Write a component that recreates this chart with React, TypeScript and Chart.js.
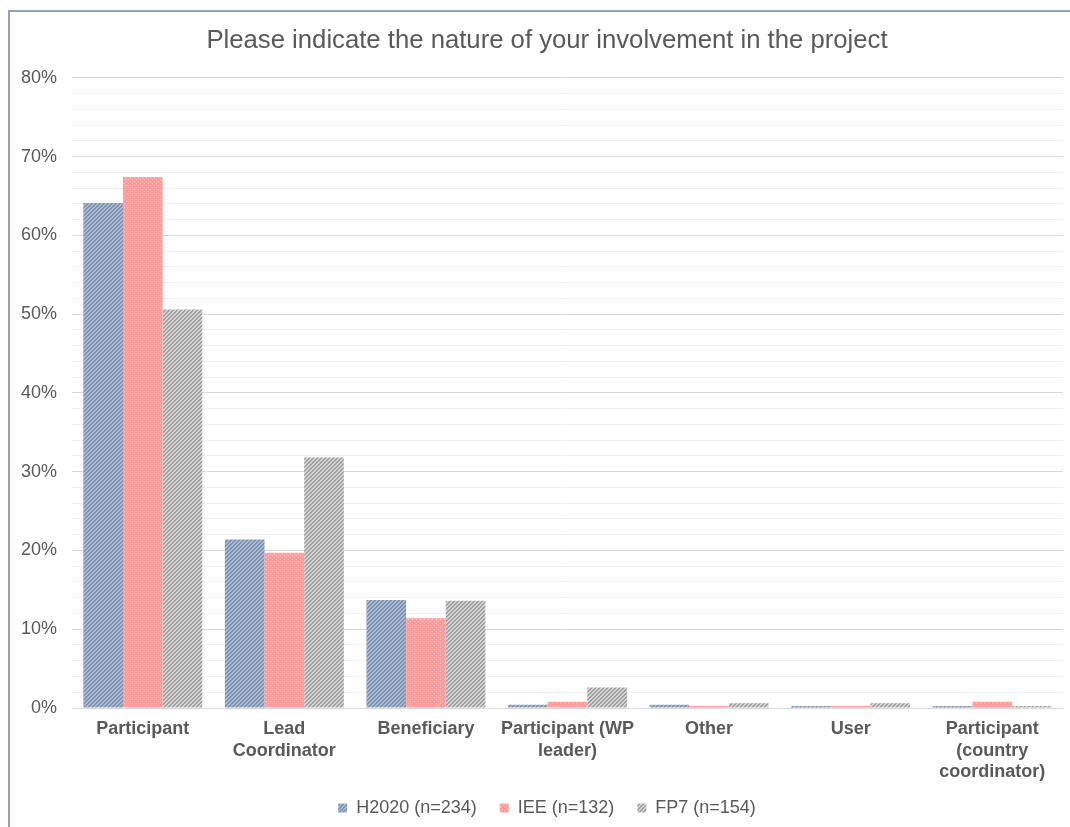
import React, { useEffect, useRef } from "react";
import { Chart, registerables } from "chart.js";

Chart.register(...registerables);

const title = "Please indicate the nature of your involvement in the project";
const categories: (string | string[])[] = [
  "Participant",
  ["Lead", "Coordinator"],
  "Beneficiary",
  ["Participant (WP", "leader)"],
  "Other",
  "User",
  ["Participant", "(country", "coordinator)"],
];
const seriesNames = ["H2020 (n=234)", "IEE (n=132)", "FP7 (n=154)"];
const h2020 = [64.1, 21.4, 13.7, 0.4, 0.4, 0, 0];
const iee = [67.4, 19.7, 11.4, 0.8, 0, 0, 0.8];
const fp7 = [50.6, 31.8, 13.6, 2.6, 0.6, 0.6, 0];

const FONT = "'Liberation Sans', Arial, sans-serif";
const TEXT = "#595959";

function stripePattern(dark: string, light: string): CanvasPattern | string {
  const c = document.createElement("canvas");
  c.width = 4;
  c.height = 4;
  const g = c.getContext("2d");
  if (!g) return dark;
  g.fillStyle = light;
  g.fillRect(0, 0, 4, 4);
  g.fillStyle = dark;
  for (let y = 0; y < 4; y++) {
    for (let k = 0; k < 2; k++) {
      const x = (3 - y + k + 4) % 4;
      g.fillRect(x, y, 1, 1);
    }
  }
  return g.createPattern(c, "repeat") || dark;
}

function dotPattern(base: string, light: string): CanvasPattern | string {
  const c = document.createElement("canvas");
  c.width = 4;
  c.height = 4;
  const g = c.getContext("2d");
  if (!g) return base;
  g.fillStyle = base;
  g.fillRect(0, 0, 4, 4);
  g.fillStyle = light;
  g.fillRect(0, 0, 1, 1);
  g.fillRect(2, 2, 1, 1);
  return g.createPattern(c, "repeat") || base;
}

export default function App() {
  const ref = useRef<HTMLCanvasElement | null>(null);

  useEffect(() => {
    if (!ref.current) return;
    const blue = stripePattern("#7f93b3", "#aab8cf");
    const pink = dotPattern("#ff9d9d", "#ffc8c8");
    const gray = stripePattern("#a2a2a2", "#d2d2d2");
    const chart = new Chart(ref.current, {
      type: "bar",
      data: {
        labels: categories,
        datasets: [
          { label: seriesNames[0], data: h2020, backgroundColor: blue as any },
          { label: seriesNames[1], data: iee, backgroundColor: pink as any },
          { label: seriesNames[2], data: fp7, backgroundColor: gray as any },
        ],
      },
      options: {
        animation: false,
        responsive: false,
        maintainAspectRatio: false,
        layout: { padding: { left: 0, right: 0, top: 0, bottom: 0 } },
        datasets: {
          bar: {
            barPercentage: 1,
            categoryPercentage: 0.84,
            minBarLength: 2,
          },
        },
        plugins: {
          title: {
            display: true,
            text: title,
            color: TEXT,
            font: { family: FONT, size: 25.7, weight: "normal" },
            padding: { top: 12, bottom: 22 },
          },
          legend: {
            position: "bottom",
            labels: {
              color: TEXT,
              font: { family: FONT, size: 18 },
              boxWidth: 9,
              boxHeight: 9,
              padding: 23,
            },
          },
          tooltip: { enabled: false },
        },
        scales: {
          x: {
            grid: { display: false },
            border: { display: true, color: "#d9d9d9", width: 1 },
            ticks: {
              color: TEXT,
              font: { family: FONT, size: 18, weight: "bold", lineHeight: 1.17 },
              maxRotation: 0,
              autoSkip: false,
              padding: 3,
            },
            afterFit: (scale: any) => {
              scale.height = 68;
              scale._computeLabelArea = () => undefined;
            },
          },
          y: {
            min: 0,
            max: 80,
            border: { display: false },
            grid: {
              drawTicks: false,
              color: (ctx: any) =>
                ctx.tick && ctx.tick.value % 10 === 0 ? "#d9d9d9" : "#f0f0f0",
            },
            ticks: {
              stepSize: 2,
              autoSkip: false,
              color: TEXT,
              font: { family: FONT, size: 18 },
              padding: 15,
              callback: (v: any) => (Number(v) % 10 === 0 ? v + "%" : ""),
            },
            afterFit: (scale: any) => {
              scale.width = 62;
            },
          },
          yRightSpace: {
            type: "linear",
            position: "right",
            min: 0,
            max: 80,
            grid: { display: false, drawTicks: false },
            border: { display: false },
            ticks: { display: false },
            afterFit: (scale: any) => {
              scale.width = 21;
            },
          },
        },
      },
    });
    return () => chart.destroy();
  }, []);

  return (
    <div style={{ position: "absolute", left: 0, top: 0, width: 1070, height: 827, overflow: "hidden", background: "#fff" }}>
      <div style={{ position: "absolute", left: 8, top: 10, width: 1070, height: 2, background: "#8fa3c0" }} />
      <div style={{ position: "absolute", left: 8, top: 10, width: 2, height: 827, background: "#8fa3c0" }} />
      <canvas
        ref={ref}
        width={1074}
        height={814}
        style={{ position: "absolute", left: 10, top: 13, width: 1074, height: 814 }}
      />
    </div>
  );
}
